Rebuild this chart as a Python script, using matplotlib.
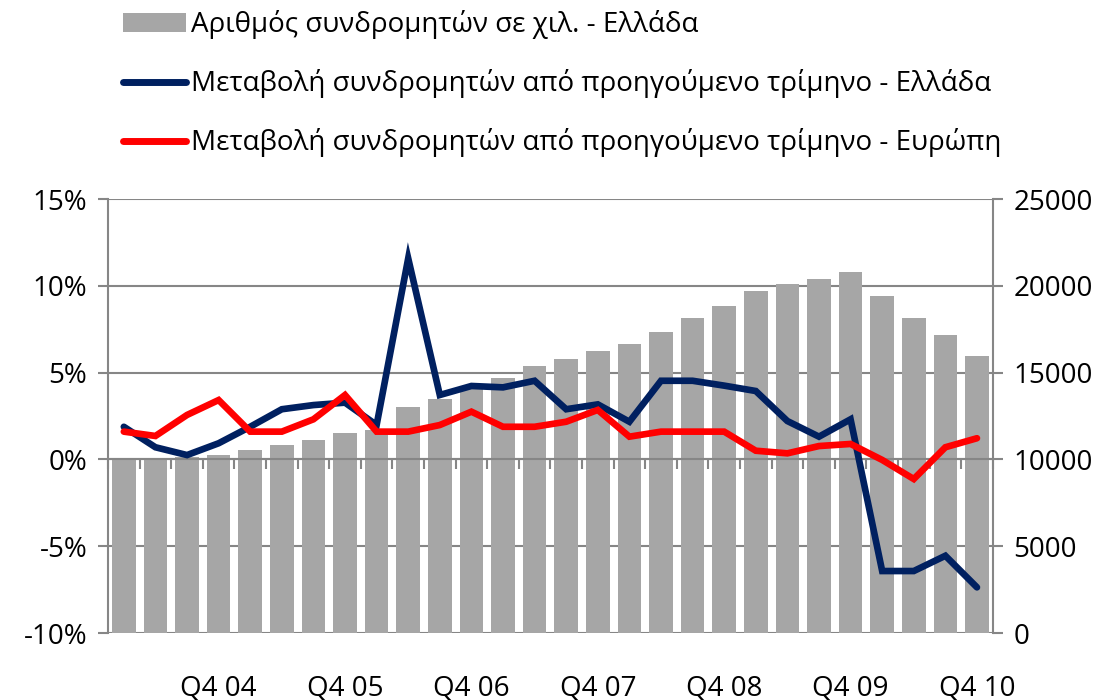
import matplotlib.pyplot as plt
import matplotlib.transforms as mtransforms
from matplotlib.patches import Patch
from matplotlib.lines import Line2D

plt.rcParams['font.family'] = ['Open Sans', 'DejaVu Sans']

# 28 quarters, Q1 04 .. Q4 10
quarters = [f"Q{q} {y:02d}" for y in range(4, 11) for q in range(1, 5)]

# subscribers in thousands - Greece (right axis)
subs_gr = [10100, 10080, 10150, 10270, 10560, 10830, 11120, 11520, 11680, 13040,
           13460, 14040, 14690, 15400, 15800, 16220, 16650, 17320, 18150, 18840,
           19680, 20080, 20370, 20800, 19390, 18150, 17190, 15960]

# quarter-on-quarter change - Greece (%)
chg_gr = [1.88, 0.70, 0.25, 0.93, 1.88, 2.89, 3.13, 3.27, 1.98, 11.58,
          3.71, 4.23, 4.15, 4.53, 2.89, 3.17, 2.17, 4.53, 4.53, 4.25,
          3.94, 2.21, 1.31, 2.31, -6.43, -6.43, -5.55, -7.37]

# quarter-on-quarter change - Europe (%)
chg_eu = [1.60, 1.35, 2.56, 3.42, 1.60, 1.60, 2.31, 3.71, 1.60, 1.60,
          1.98, 2.75, 1.88, 1.88, 2.17, 2.85, 1.31, 1.60, 1.60, 1.60,
          0.50, 0.35, 0.77, 0.89, -0.03, -1.13, 0.70, 1.22]

labels = ["Αριθμός συνδρομητών σε χιλ. - Ελλάδα",
          "Μεταβολή συνδρομητών από προηγούμενο τρίμηνο - Ελλάδα",
          "Μεταβολή συνδρομητών από προηγούμενο τρίμηνο - Ευρώπη"]

GRAY = '#A6A6A6'
NAVY = '#002060'
RED = '#FF0000'
AXC = '#868686'
FS = 20

fig = plt.figure(figsize=(11.08, 7), dpi=100)
ax = fig.add_axes([0.0975, 0.0957, 0.7985, 0.62])
ax2 = ax.twinx()
x = list(range(len(quarters)))

# bars on the right-hand axis
ax.bar(x, subs_gr, width=0.75, color=GRAY, zorder=2)
ax.set_ylim(0, 25000)
ax.set_yticks(range(0, 25001, 5000))
ax.yaxis.tick_right()
ax.yaxis.set_label_position('right')
ax.grid(axis='y', color=AXC, lw=1.5, zorder=0)
ax.set_axisbelow(True)
ax.tick_params(axis='y', colors=AXC, labelcolor='black', labelsize=FS,
               length=7, width=1.5, pad=8, direction='out')
ax.set_xlim(-0.5, len(quarters) - 0.5)
for s in ['top', 'left']:
    ax.spines[s].set_visible(False)
ax.spines['right'].set_color(AXC)
ax.spines['right'].set_linewidth(1.5)
ax.spines['bottom'].set_position(('data', 10000))
ax.spines['bottom'].set_color(AXC)
ax.spines['bottom'].set_linewidth(1.5)
ax.set_xticks([i + 0.5 for i in range(-1, len(quarters))])
ax.tick_params(axis='x', colors=AXC, length=7, width=1.5, labelbottom=False)

trans = mtransforms.blended_transform_factory(ax.transData, ax.transAxes)
for i, q in enumerate(quarters):
    if q.startswith("Q4"):
        ax.text(i, -0.127, q, transform=trans, ha='center', va='center', fontsize=FS)

# lines on the left-hand axis
ax2.plot(x, chg_gr, color=NAVY, lw=4.8, solid_capstyle='round', solid_joinstyle='miter', zorder=3)
ax2.plot(x, chg_eu, color=RED, lw=4.8, solid_capstyle='round', solid_joinstyle='miter', zorder=4)
ax2.set_ylim(-10, 15)
ax2.set_yticks(range(-10, 16, 5))
ax2.set_yticklabels([f"{v}%" for v in range(-10, 16, 5)])
ax2.yaxis.tick_left()
ax2.yaxis.set_label_position('left')
ax2.tick_params(axis='y', colors=AXC, labelcolor='black', labelsize=FS,
                length=7, width=1.5, pad=8)
for s in ['top', 'right', 'bottom']:
    ax2.spines[s].set_visible(False)
ax2.spines['left'].set_visible(True)
ax2.spines['left'].set_color(AXC)
ax2.spines['left'].set_linewidth(1.5)

handles = [Patch(facecolor=GRAY, edgecolor='none'),
           Line2D([], [], color=NAVY, lw=5, solid_capstyle='round'),
           Line2D([], [], color=RED, lw=5, solid_capstyle='round')]
fig.legend(handles, labels, loc='upper left', bbox_to_anchor=(0.088, 1.021),
           frameon=False, fontsize=FS, handlelength=2.3, handletextpad=0.15,
           labelspacing=1.08)

fig.savefig('out.png', dpi=100)
